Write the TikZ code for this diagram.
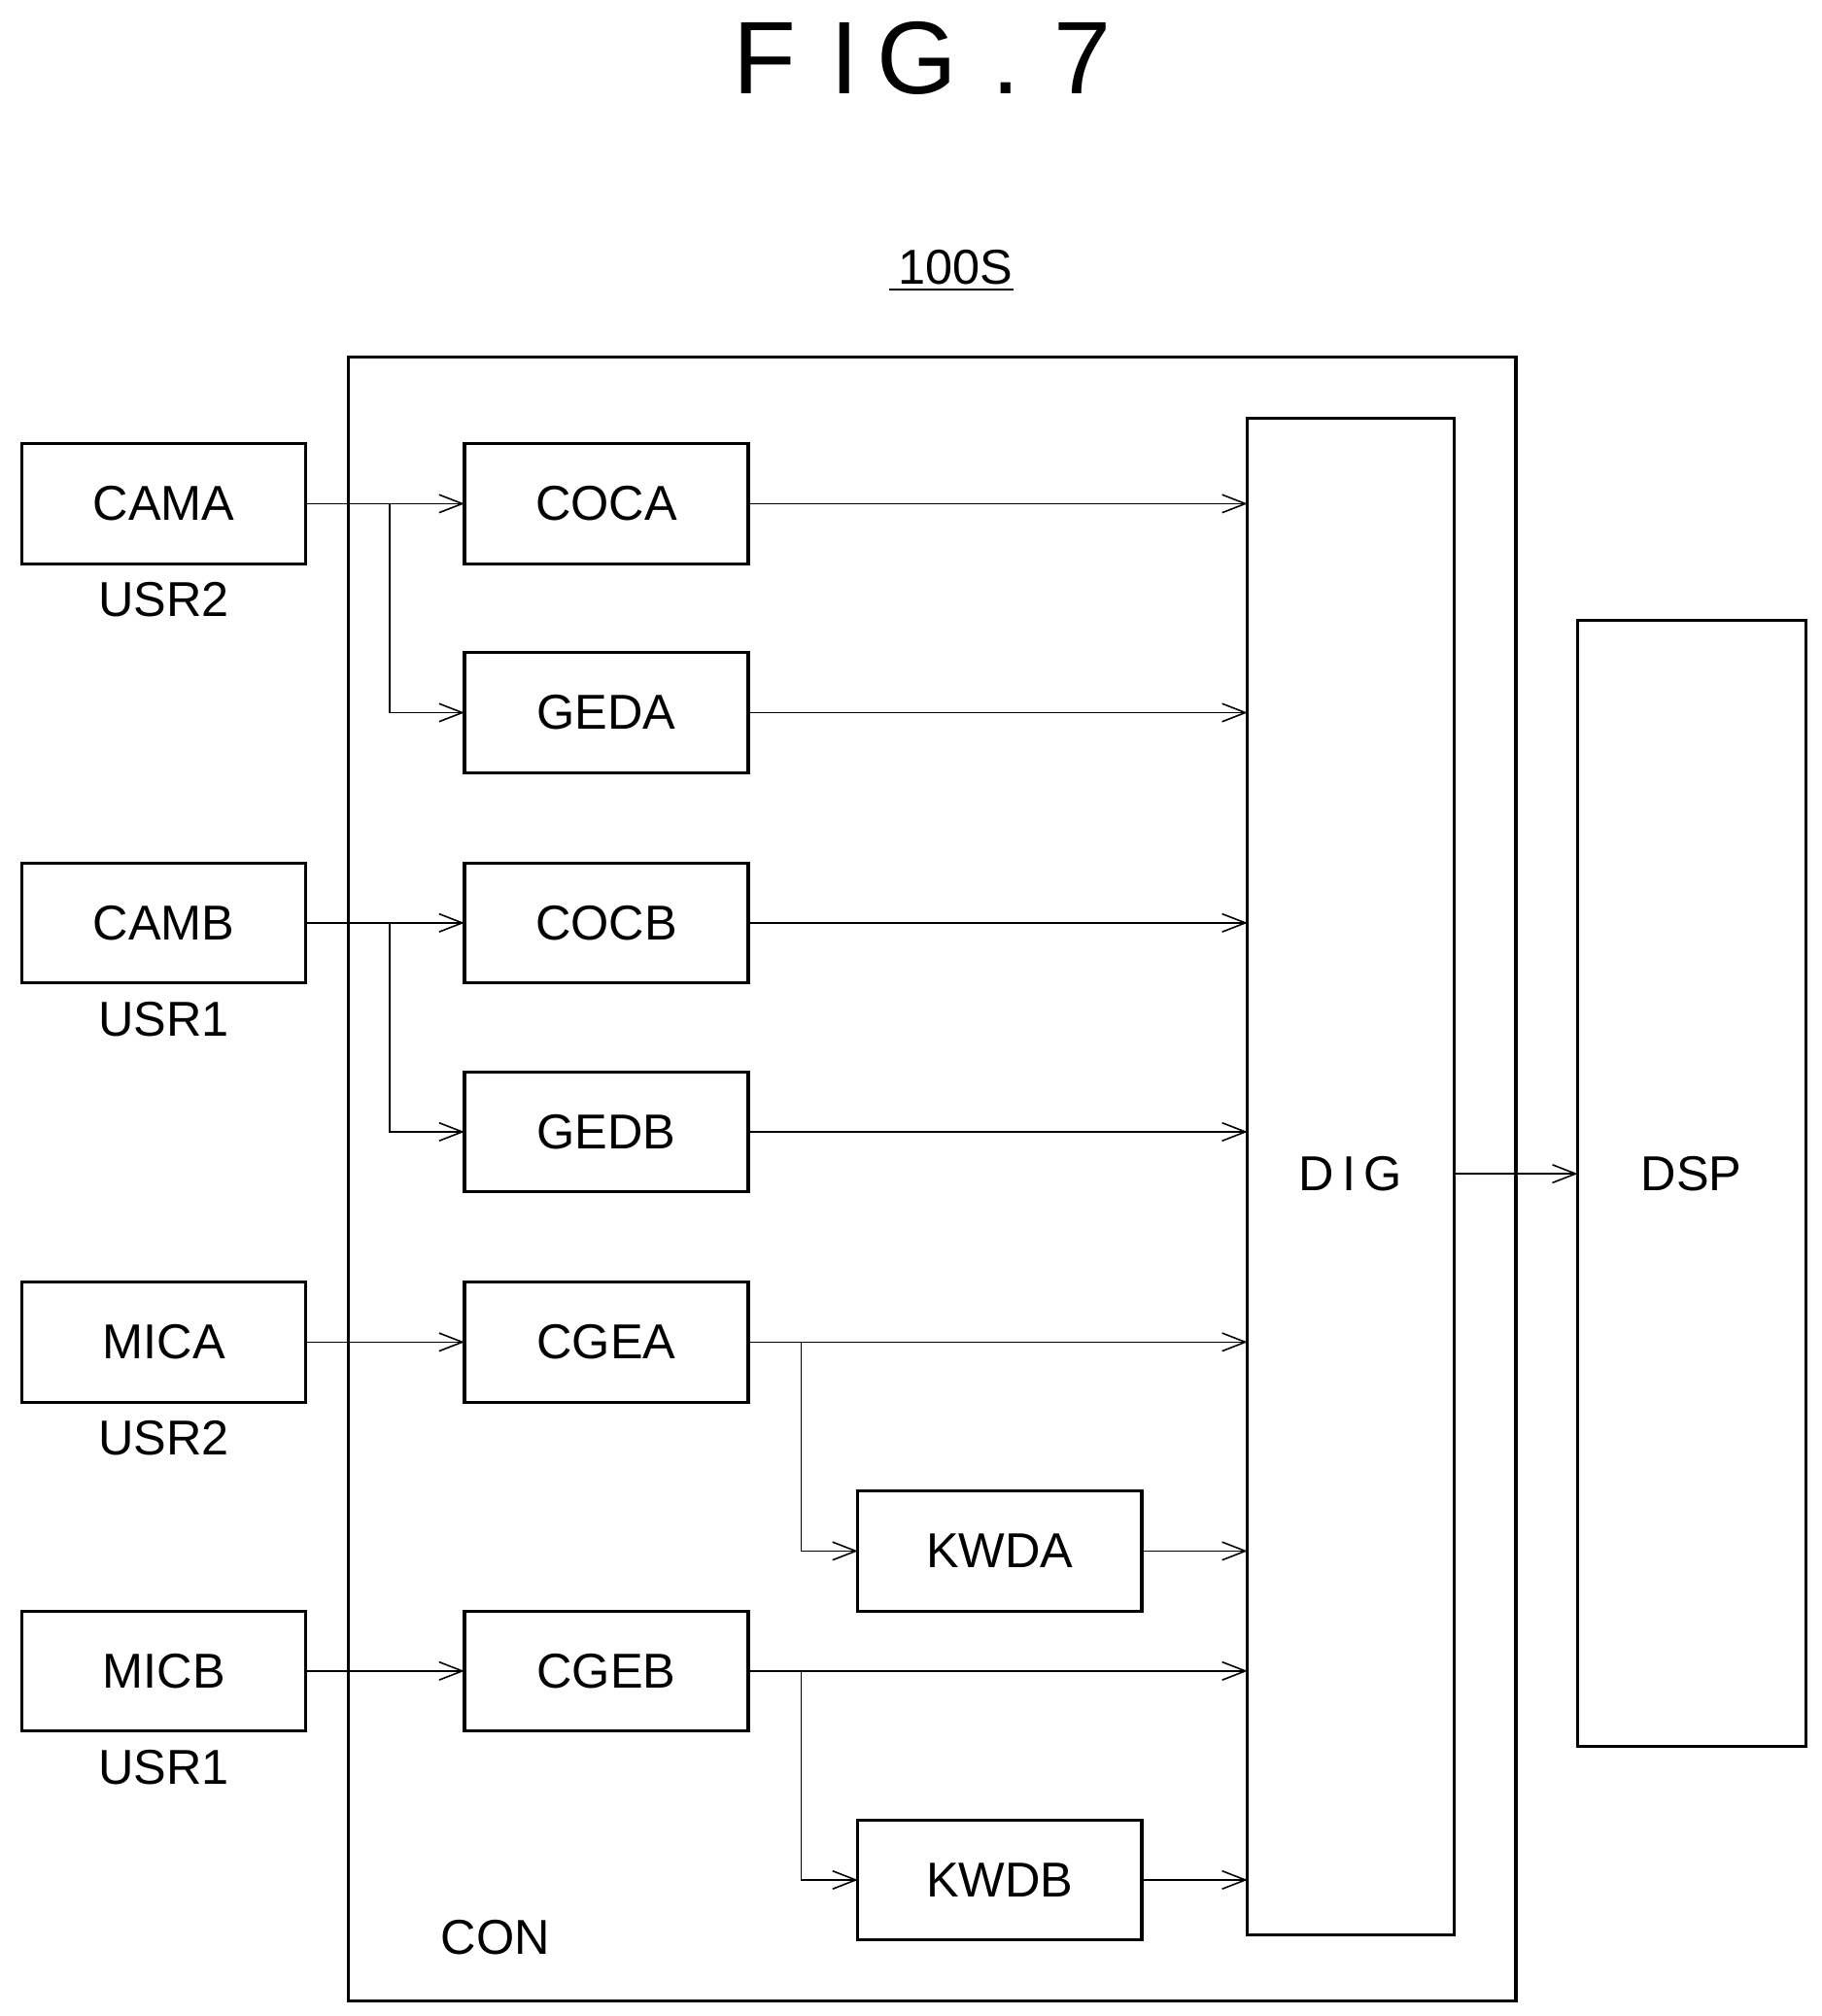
\documentclass[tikz,border=0pt]{standalone}
\usepackage{fontspec}
\setmainfont{Liberation Sans}
\usetikzlibrary{arrows.meta}
\begin{document}
\begin{tikzpicture}[x=0.5pt,y=-0.5pt,
 box/.style={draw,line width=1.2pt,inner sep=0pt},
 lbl/.style={font=\fontsize{19}{22}\selectfont},
 arr/.style={-{Straight Barb[length=9pt,width=7pt]},line width=0.6pt},
 ln/.style={line width=0.6pt}]
\useasboundingbox (0,0) rectangle (1412,1563);
\node[font=\fontsize{40}{44}\selectfont] (fig) at (715,45) {F\,\,I\,G\,\,.\,\,7};
\node[lbl] (hs) at (741,207) {100S};
\draw[line width=1pt] (hs.south west)++(0,-3) -- ++(96,0);
\draw[box] (270,277) rectangle (1175,1551);
\node[lbl] (con) at (384,1502) {CON};
\newcommand{\bx}[6]{\draw[box] (#2,#3) rectangle (#4,#5); \node[lbl] (#1) at ({(#2+#4)/2},{(#3+#5)/2}) {#6};
 \coordinate (#1W) at (#2,{(#3+#5)/2}); \coordinate (#1E) at (#4,{(#3+#5)/2});}
\bx{cama}{17}{344}{237}{437}{CAMA}
\bx{camb}{17}{669}{237}{762}{CAMB}
\bx{mica}{17}{994}{237}{1087}{MICA}
\bx{micb}{17}{1249}{237}{1342}{MICB}
\node[lbl] at (127,465) {USR2};
\node[lbl] at (127,790) {USR1};
\node[lbl] at (127,1115) {USR2};
\node[lbl] at (127,1370) {USR1};
\bx{coca}{360}{344}{580}{437}{COCA}
\bx{geda}{360}{506}{580}{599}{GEDA}
\bx{cocb}{360}{669}{580}{762}{COCB}
\bx{gedb}{360}{831}{580}{924}{GEDB}
\bx{cgea}{360}{994}{580}{1087}{CGEA}
\bx{cgeb}{360}{1249}{580}{1342}{CGEB}
\bx{kwda}{665}{1156}{885}{1249}{KWDA}
\bx{kwdb}{665}{1411}{885}{1504}{KWDB}
\draw[box] (967,324) rectangle (1127,1500);
\node[lbl] (dig) at (1047,910) {D\,I\,G};
\draw[box] (1223,481) rectangle (1400,1354);
\node[lbl] (dsp) at (1311,910) {DSP};
\draw[arr] (camaE) -- (cocaW);
\draw[arr] (302,390) |- (gedaW);
\draw[arr] (cambE) -- (cocbW);
\draw[arr] (302,715) |- (gedbW);
\draw[arr] (micaE) -- (cgeaW);
\draw[arr] (micbE) -- (cgebW);
\foreach \n in {coca,geda,cocb,gedb,cgea,cgeb,kwda,kwdb}{
 \draw[arr] (\n E) -- (967,0 |- \n E);}
\draw[arr] (621,1040) |- (kwdaW);
\draw[arr] (621,1295) |- (kwdbW);
\draw[arr] (1127,910) -- (1223,910);
\end{tikzpicture}
\end{document}
